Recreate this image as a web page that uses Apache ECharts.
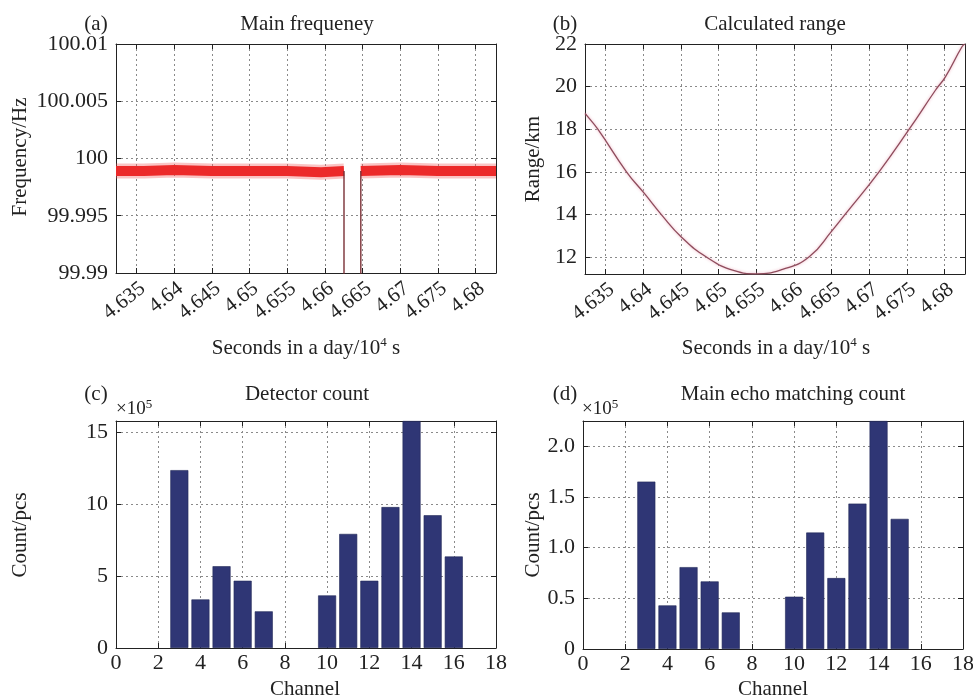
<!DOCTYPE html>
<html>
<head>
<meta charset="utf-8">
<script src="https://cdn.jsdelivr.net/npm/echarts@6/dist/echarts.min.js"></script>
<style>
html,body{margin:0;padding:0;background:#fff}
#main{width:973px;height:700px}
</style>
</head>
<body>
<div id="main"></div>
<script>
// (a) 主频 - 带状噪声用粗线表示
var freqLeftT = [4.6323, 4.6360, 4.6400, 4.6450, 4.6500, 4.6550, 4.6595, 4.66254];
var freqLeftV = [99.9989, 99.9989, 99.9990, 99.9989, 99.9989, 99.9989, 99.9988, 99.9989];
var freqRightT = [4.66477, 4.6700, 4.6750, 4.6800, 4.6827];
var freqRightV = [99.9989, 99.9990, 99.9989, 99.9989, 99.9989];
// 中断处的竖线
var dropT = [4.66254, 4.66254, 4.66477, 4.66477];
var dropV = [99.9989, 99.985, 99.985, 99.9989];

// (b) 计算距离
var rangeT = [4.6323, 4.6325, 4.6340, 4.6378, 4.6402, 4.6424, 4.6451, 4.6484, 4.6521, 4.6550,
              4.6585, 4.6620, 4.6651, 4.6668, 4.6713, 4.6753, 4.6788, 4.6801, 4.6823, 4.6827];
var rangeV = [18.74, 18.66, 18.0, 16.0, 14.97, 14.0, 12.93, 12.0, 11.36, 11.21,
              11.42, 12.0, 13.25, 14.0, 16.0, 18.0, 19.84, 20.46, 21.87, 22.0];

// (c)(d) 柱状图, 单位 ×10^5
var detChannels = [3, 4, 5, 6, 7, 10, 11, 12, 13, 14, 15, 16];
var detectorCount = [12.38, 3.38, 5.69, 4.68, 2.55, 3.66, 7.94, 4.68, 9.81, 15.8, 9.24, 6.37];
var echoChannels = [3, 4, 5, 6, 7, 10, 11, 12, 13, 14, 15];
var echoCount = [1.652, 0.430, 0.808, 0.667, 0.361, 0.516, 1.149, 0.700, 1.435, 2.25, 1.284];

var FONT = '"Liberation Serif", "DejaVu Serif", serif';
var TXT = '#222';

function pairs(xs, ys) {
    var out = [];
    for (var i = 0; i < xs.length; i++) out.push([xs[i], ys[i]]);
    return out;
}
function isMult(v, step) {
    var q = v / step;
    return Math.abs(q - Math.round(q)) < 1e-6;
}

var myChart = echarts.init(document.getElementById('main'));

var grids = [
    {left: 116, top: 44, width: 380, height: 229},
    {left: 585, top: 44, width: 380, height: 230},
    {left: 116, top: 421, width: 380, height: 227},
    {left: 583, top: 421, width: 380, height: 228}
];
grids.forEach(function (g) { g.outerBoundsMode = 'none'; g.containLabel = false; });

var xAxes = [], yAxes = [];

//坐标轴模板
function axisBase(extra, main) {
    var a = {
        type: 'value',
        axisLine: {show: true, onZero: false, lineStyle: {color: TXT, width: 1}},
        axisTick: {show: true, inside: true, length: 5, lineStyle: {color: TXT}},
        axisLabel: {show: main, color: TXT, fontFamily: FONT, fontSize: 22},
        splitLine: {show: main, lineStyle: {color: '#8a8a8a', type: [2, 3], width: 1}}
    };
    for (var k in extra) {
        if (k === 'axisLabel') {
            for (var j in extra.axisLabel) a.axisLabel[j] = extra.axisLabel[j];
        } else a[k] = extra[k];
    }
    return a;
}

function addAxes(gi, xo, yo) {
    var xm = JSON.parse(JSON.stringify(xo)), ym = JSON.parse(JSON.stringify(yo));
    if (xo.axisLabel && xo.axisLabel.formatter) xm.axisLabel.formatter = xo.axisLabel.formatter;
    if (yo.axisLabel && yo.axisLabel.formatter) ym.axisLabel.formatter = yo.axisLabel.formatter;
    var xb = axisBase(xm, true); xb.gridIndex = gi; xb.position = 'bottom';
    var xt = axisBase(xo, false); xt.gridIndex = gi; xt.position = 'top';
    var yl = axisBase(ym, true); yl.gridIndex = gi; yl.position = 'left';
    var yr = axisBase(yo, false); yr.gridIndex = gi; yr.position = 'right';
    xAxes.push(xb, xt);
    yAxes.push(yl, yr);
}

var timeFmt = function (v) { return isMult(v, 0.005) ? String(+v.toFixed(3)) : ''; };
var timeLabel = {rotate: 38, margin: 5, verticalAlign: 'top', fontSize: 21, formatter: timeFmt};

addAxes(0,
    {min: 4.6323, max: 4.6827, splitNumber: 10, axisLabel: timeLabel},
    {min: 99.99, max: 100.01, interval: 0.005, axisLabel: {margin: 8, formatter: function (v) { return String(+v.toFixed(3)); }}});
addAxes(1,
    {min: 4.6323, max: 4.6827, splitNumber: 10, axisLabel: timeLabel},
    {min: 11.2, max: 22, splitNumber: 5, axisLabel: {margin: 8, formatter: function (v) { return isMult(v, 2) ? String(Math.round(v)) : ''; }}});
addAxes(2,
    {min: 0, max: 18, interval: 2, axisLabel: {margin: 4}},
    {min: 0, max: 15.8, interval: 5, axisLabel: {margin: 8, formatter: function (v) { return isMult(v, 5) ? String(Math.round(v)) : ''; }}});
addAxes(3,
    {min: 0, max: 18, interval: 2, axisLabel: {margin: 4}},
    {min: 0, max: 2.25, interval: 0.5, axisLabel: {margin: 8, formatter: function (v) {
        if (!isMult(v, 0.5)) return '';
        return v === 0 ? '0' : v.toFixed(1);
    }}});

var series = [
    //(a) 带状
    {type: 'line', xAxisIndex: 0, yAxisIndex: 0, data: pairs(freqLeftT, freqLeftV), showSymbol: false,
        lineStyle: {color: 'rgba(240,90,90,0.35)', width: 15, cap: 'butt'}, silent: true},
    {type: 'line', xAxisIndex: 0, yAxisIndex: 0, data: pairs(freqRightT, freqRightV), showSymbol: false,
        lineStyle: {color: 'rgba(240,90,90,0.35)', width: 15, cap: 'butt'}, silent: true},
    {type: 'line', xAxisIndex: 0, yAxisIndex: 0, data: pairs(freqLeftT, freqLeftV), showSymbol: false,
        lineStyle: {color: '#ec2a2a', width: 10, cap: 'butt'}, silent: true},
    {type: 'line', xAxisIndex: 0, yAxisIndex: 0, data: pairs(freqRightT, freqRightV), showSymbol: false,
        lineStyle: {color: '#ec2a2a', width: 10, cap: 'butt'}, silent: true},
    {type: 'line', xAxisIndex: 0, yAxisIndex: 0, data: pairs(dropT, dropV), showSymbol: false, clip: true,
        lineStyle: {color: '#7a3036', width: 1.4}, silent: true},
    //(b)
    {type: 'line', xAxisIndex: 2, yAxisIndex: 2, data: pairs(rangeT, rangeV), showSymbol: false, smooth: 0.5,
        lineStyle: {color: '#8e4c5c', width: 1.3, shadowColor: 'rgba(235,160,180,0.9)', shadowBlur: 3}, silent: true},
    //(c)
    {type: 'bar', xAxisIndex: 4, yAxisIndex: 4, data: pairs(detChannels, detectorCount), barWidth: 18,
        itemStyle: {color: '#2f3675', borderColor: '#222857', borderWidth: 0.6}, silent: true},
    //(d)
    {type: 'bar', xAxisIndex: 6, yAxisIndex: 6, data: pairs(echoChannels, echoCount), barWidth: 18,
        itemStyle: {color: '#2f3675', borderColor: '#222857', borderWidth: 0.6}, silent: true}
];

//文字
function txt(x, y, s, opts) {
    var st = {text: s, x: 0, y: 0, fill: TXT, font: '21px ' + FONT, align: 'center', verticalAlign: 'middle'};
    if (opts && opts.style) for (var k in opts.style) st[k] = opts.style[k];
    return {type: 'text', x: x, y: y, rotation: (opts && opts.rotation) || 0, style: st, silent: true};
}
var supRich = {s: {fontSize: 13, lineHeight: 13, verticalAlign: 'top', fontFamily: FONT, fill: TXT}};

var graphics = [
    txt(96, 24, '(a)'),
    txt(307, 24, 'Main frequeney'),
    txt(565, 24, '(b)'),
    txt(775, 24, 'Calculated range'),
    txt(20, 157, 'Frequency/Hz', {rotation: Math.PI / 2}),
    txt(533, 159, 'Range/km', {rotation: Math.PI / 2}),
    txt(306, 348, 'Seconds in a day/10{s|4} s', {style: {rich: supRich, lineHeight: 23}}),
    txt(776, 348, 'Seconds in a day/10{s|4} s', {style: {rich: supRich, lineHeight: 23}}),
    txt(96, 394, '(c)'),
    txt(307, 394, 'Detector count'),
    txt(565, 394, '(d)'),
    txt(793, 394, 'Main echo matching count'),
    txt(116, 409, '×10{s|5}', {style: {align: 'left', font: '19px ' + FONT, rich: supRich, lineHeight: 21}}),
    txt(582, 409, '×10{s|5}', {style: {align: 'left', font: '19px ' + FONT, rich: supRich, lineHeight: 21}}),
    txt(20, 535, 'Count/pcs', {rotation: Math.PI / 2}),
    txt(533, 535, 'Count/pcs', {rotation: Math.PI / 2}),
    txt(305, 689, 'Channel'),
    txt(773, 689, 'Channel')
];

var option = {
    backgroundColor: '#fff',
    animation: false,
    grid: grids,
    xAxis: xAxes,
    yAxis: yAxes,
    series: series,
    graphic: {elements: graphics}
};
myChart.setOption(option);
window.onresize = myChart.resize;
</script>
</body>
</html>
